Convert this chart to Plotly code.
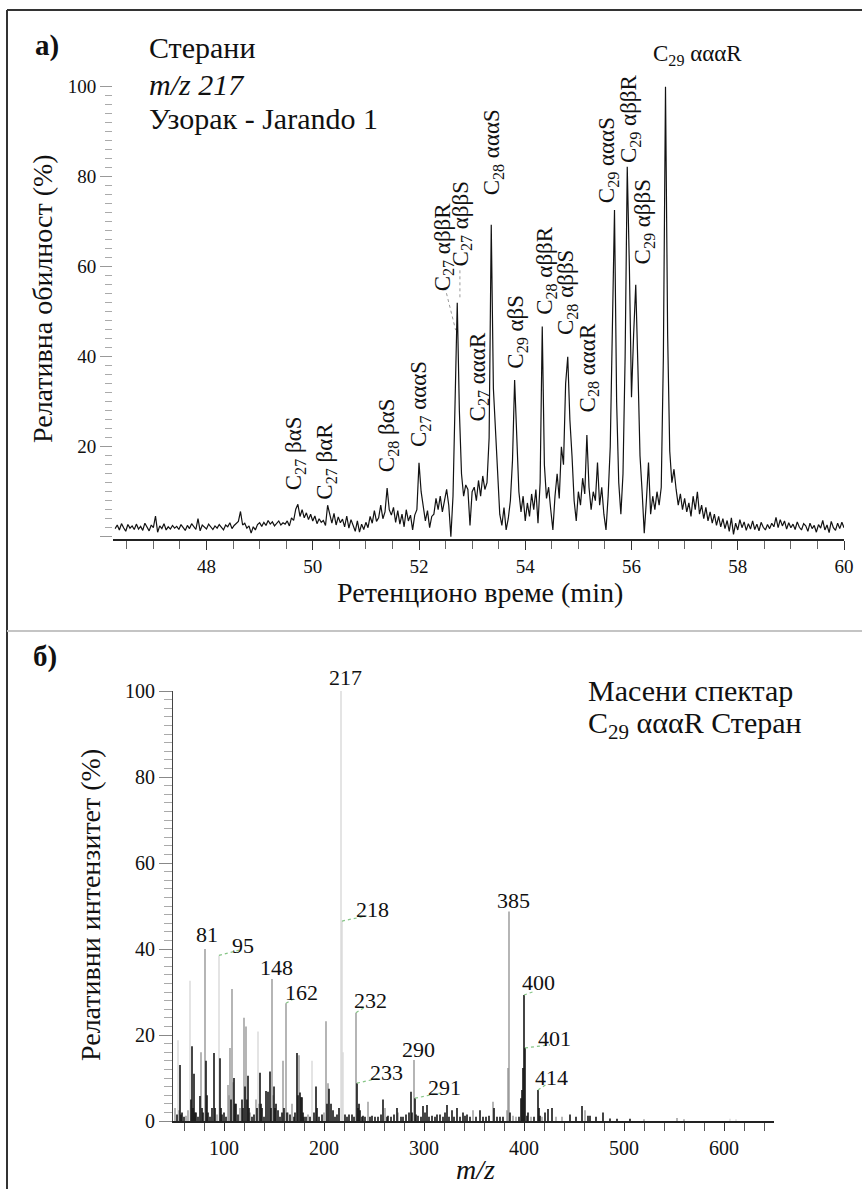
import plotly.graph_objects as go

# ------------------------------------------------------------------
# DATA
# ------------------------------------------------------------------
# (a) m/z 217 chromatogram: relative abundance (%) sampled every 0.04 min from 46.28 min
rt_start = 46.28
rt_step = 0.04
abundance = [
    1.8, 2.6, 1.5, 2.9, 2.0, 1.2, 2.7, 1.9, 2.4, 1.6,
    2.8, 1.7, 2.3, 1.4, 3.0, 2.1, 1.3, 2.6, 2.0, 4.6,
    1.0, 2.4, 1.8, 2.9, 1.5, 2.2, 1.7, 2.5, 1.9, 2.3,
    1.6, 2.7, 2.0, 1.4, 2.5, 1.8, 2.9, 2.2, 1.6, 4.0,
    1.3, 2.6, 2.1, 1.7, 2.8, 2.3, 1.6, 2.4, 1.9, 2.7,
    2.0, 1.5, 2.6, 2.2, 3.1, 1.8, 2.5, 2.9, 3.4, 5.6,
    2.6, 3.0, 1.9, 2.4, 0.8, 2.2, 1.5, 2.7, 3.1, 2.3,
    3.2, 2.5, 3.6, 2.8, 3.3, 2.4, 3.0, 3.5, 2.6, 3.1,
    2.8, 3.5, 2.4, 4.2, 3.6, 6.1, 7.2, 4.5, 6.0, 4.2,
    5.3, 3.8, 5.0, 3.5, 4.6, 2.9, 4.0, 3.2, 3.6, 2.5,
    7.0, 4.8, 3.0, 5.2, 2.6, 4.4, 3.1, 3.9, 2.2, 4.6,
    1.9, 3.8, 2.5, 1.2, 3.5, 1.0, 2.8, 1.6, 3.2, 2.0,
    4.5, 3.0, 5.8, 3.4, 4.2, 7.0, 4.0, 5.5, 10.8, 6.0,
    4.8, 6.5, 3.2, 5.8, 2.8, 5.0, 2.2, 6.0, 3.5, 4.8,
    1.5, 4.8, 6.0, 16.4, 10.0, 6.5, 3.5, 5.8, 2.0, 4.5,
    5.0, 8.5, 6.0, 9.0, 5.5, 8.0, 10.5, 7.0, 0.0, 9.0,
    30.0, 52.0, 28.0, 14.0, 9.0, 11.5, 10.5, 2.5, 10.0, 11.0,
    8.0, 12.5, 9.0, 13.5, 10.5, 12.0, 22.0, 69.3, 33.0, 22.5,
    12.0, 5.0, 2.5, 6.5, 1.5, 4.0, 8.0, 17.0, 34.8, 20.0,
    10.0, 5.5, 9.0, 3.5, 7.5, 4.5, 9.5, 6.0, 10.5, 3.0,
    12.0, 46.7, 16.0, 8.5, 11.0, 6.0, 1.5, 9.0, 14.0, 8.5,
    20.0, 16.0, 34.0, 40.0, 26.0, 18.0, 8.0, 3.5, 10.0, 7.0,
    13.0, 9.5, 22.6, 11.0, 6.0, 10.0, 8.0, 16.5, 7.0, 11.0,
    5.0, 1.5, 9.0, 20.0, 45.0, 72.6, 30.0, 12.0, 5.0, 14.0,
    40.0, 82.2, 60.0, 31.0, 45.0, 56.0, 38.0, 18.0, 10.0, 0.8,
    8.0, 16.5, 5.0, 9.0, 6.0, 10.0, 7.0, 11.0, 40.0, 100.0,
    45.0, 19.0, 12.0, 15.0, 10.5, 7.0, 9.5, 6.0, 8.5, 5.5,
    7.5, 4.5, 9.0, 6.0, 10.0, 5.0, 7.0, 4.0, 6.5, 3.5,
    5.5, 3.0, 5.0, 2.5, 4.5, 2.2, 4.0, 1.8, 3.6, 1.2,
    4.2, 0.5, 3.0, 1.5, 3.8, 2.0, 3.3, 1.4, 2.9, 1.7,
    3.5, 1.6, 2.8, 1.3, 3.2, 2.1, 1.5, 2.7, 1.8, 3.0,
    2.2, 4.3, 2.0, 3.8, 2.4, 3.5, 1.7, 3.1, 2.0, 2.8,
    1.6, 3.3, 2.1, 1.5, 2.9, 2.4, 1.2, 3.0, 1.8, 2.5,
    1.0, 2.7, 1.9, 3.6, 1.5, 2.6, 0.9, 3.4, 2.0, 1.4,
    3.0, 1.8, 3.2, 2.0,
]
retention_time = [round(rt_start + rt_step * i, 2) for i in range(len(abundance))]

peak_names = [
    "C<sub>27</sub> βαS", "C<sub>27</sub> βαR", "C<sub>28</sub> βαS", "C<sub>27</sub> αααS",
    "C<sub>27</sub> αββR", "C<sub>27</sub> αββS", "C<sub>27</sub> αααR", "C<sub>28</sub> αααS",
    "C<sub>29</sub> αβS", "C<sub>28</sub> αββR", "C<sub>28</sub> αββS", "C<sub>28</sub> αααR",
    "C<sub>29</sub> αααS", "C<sub>29</sub> αββR", "C<sub>29</sub> αββS", "C<sub>29</sub> αααR",
]

# (b) mass spectrum of C29 αααR sterane: m/z, relative intensity (%), shade of the stick
mz_values = [
    51, 53, 54, 55, 56, 57, 58, 60, 62, 64, 66, 67, 68, 69, 70, 71, 72, 74, 76, 77,
    78, 79, 81, 82, 83, 84, 86, 88, 90, 91, 93, 95, 96, 97, 98, 100, 102, 104, 105, 106,
    107, 108, 109, 110, 111, 112, 114, 116, 118, 119, 120, 121, 122, 123, 124, 125, 126, 128, 130, 132,
    133, 134, 135, 136, 137, 138, 140, 142, 144, 146, 147, 148, 149, 150, 151, 152, 154, 156, 158, 159,
    160, 162, 163, 164, 166, 168, 170, 171, 173, 174, 175, 176, 177, 178, 179, 180, 182, 184, 186, 188,
    190, 192, 193, 195, 198, 200, 202, 203, 204, 205, 207, 209, 211, 213, 215, 217, 218, 219, 221, 223,
    225, 228, 230, 232, 233, 234, 235, 236, 238, 239, 241, 244, 246, 248, 251, 254, 257, 259, 261, 263,
    264, 267, 270, 273, 274, 277, 279, 282, 285, 287, 288, 290, 291, 292, 294, 297, 299, 301, 303, 305,
    308, 311, 313, 316, 319, 321, 323, 325, 328, 330, 333, 336, 339, 341, 343, 346, 349, 352, 356, 359,
    362, 365, 369, 370, 373, 376, 379, 383, 384, 385, 386, 389, 392, 395, 397, 398, 399, 400, 401, 403,
    404, 407, 410, 414, 415, 416, 418, 421, 424, 428, 432, 438, 446, 452, 458, 461, 464, 466, 472, 479,
    486, 493, 506, 520, 553, 560, 606, 612,
]
rel_intensity = [
    3.0, 1.5, 18.8, 2.5, 13.0, 1.5, 2.0, 1.0, 1.2, 2.5, 32.6, 5.0, 17.4, 3.0, 11.0, 2.0, 2.0, 1.0, 5.8, 16.0,
    3.0, 2.0, 40.0, 14.0, 6.0, 2.0, 1.0, 3.0, 15.8, 3.0, 1.5, 38.5, 14.6, 3.0, 1.5, 2.0, 1.0, 8.4, 6.0, 17.0,
    5.0, 30.7, 9.0, 10.0, 4.0, 4.0, 1.5, 3.0, 5.0, 3.0, 24.0, 8.0, 22.0, 5.0, 10.5, 3.0, 2.0, 1.0, 1.5, 5.0,
    3.0, 20.8, 4.0, 11.2, 4.0, 3.0, 1.0, 7.0, 6.8, 11.5, 3.0, 33.0, 6.0, 8.0, 3.0, 4.0, 2.5, 1.0, 2.0, 14.0,
    3.0, 27.4, 2.0, 2.0, 1.5, 4.0, 1.0, 2.0, 15.8, 6.0, 15.3, 6.6, 5.5, 5.5, 2.0, 1.0, 1.0, 1.5, 1.0, 14.0,
    2.0, 8.0, 3.0, 1.0, 1.5, 2.0, 23.2, 4.0, 8.8, 7.5, 4.0, 2.5, 1.0, 1.5, 3.0, 100.0, 46.5, 16.0, 1.5, 1.0,
    1.5, 1.5, 1.0, 25.2, 8.8, 3.0, 4.0, 2.5, 1.0, 1.2, 1.0, 4.5, 1.0, 1.2, 1.0, 1.0, 1.5, 5.0, 3.0, 1.0,
    1.2, 1.0, 1.5, 3.0, 2.0, 1.0, 1.0, 1.5, 2.0, 6.8, 2.0, 14.2, 5.3, 1.5, 1.2, 1.0, 3.5, 2.0, 3.7, 1.0,
    1.2, 1.0, 1.5, 1.5, 1.0, 2.0, 3.7, 1.0, 2.5, 1.0, 3.0, 1.0, 2.0, 1.2, 1.5, 1.0, 2.5, 1.0, 2.5, 1.0,
    1.0, 1.2, 4.5, 3.0, 1.0, 1.0, 1.0, 2.5, 12.3, 48.7, 2.0, 1.2, 1.0, 1.0, 5.3, 7.2, 12.3, 29.3, 17.0, 1.2,
    2.0, 1.0, 1.0, 7.2, 3.0, 1.2, 1.0, 2.0, 2.8, 3.0, 1.0, 1.0, 1.5, 1.0, 3.5, 2.5, 1.2, 1.2, 1.0, 2.0,
    0.6, 0.5, 0.5, 0.4, 0.7, 0.4, 0.5, 0.4,
]
bar_shade = list(
    "gklgkkkkgglkkkkkkkkg"
    "kkgkkkkkkkglkkkkkggg"
    "kggkkkkgkkgkgkkkgkkg"
    "klgkkkkkkkkggkkkkkkg"
    "kgkgkgkkkkgkkkkkkgkl"
    "kkkkkggkgkkkkkklllkk"
    "kkkgkkkkkkkgkkkkkkgk"
    "kkkkgkkkkkkgkkkkkkkk"
    "kkkkkkkkkkkkkkkkgkkk"
    "kkgkkkkggg"
    "kggkkkkkkkkgk"
    "kkkgkkkggkkkgkkkkkkk"
    "ggglllll"
)
labelled_mz = [81, 95, 148, 162, 217, 218, 232, 233, 290, 291, 385, 400, 401, 414]

# ------------------------------------------------------------------
# LAYOUT HELPERS (positions / styles)
# ------------------------------------------------------------------
W, H = 862, 1189
FONT = "'Liberation Serif', 'Times New Roman', Times, 'DejaVu Serif', serif"


def fx(p):
    return p / W


def fy(p):
    return 1 - p / H


# label centres of panel (a): data coords, or paper pixels when above the axis range
peak_label_pos = [
    (49.67, 18.6), (50.26, 16.8), (51.42, 22.6), (52.02, 29.5),
    (52.46, 64.4), (52.80, 69.5), (53.12, 35.5), (53.40, 85.5),
    (53.84, 45.5), (54.39, 59.3), (54.79, 54.2), (55.19, 37.5),
    (55.56, 83.7), (55.97, 93.0), (56.24, 69.9), ("px", 697, 55),
]
peak_label_angle = [-90] * 15 + [0]

# label centres of panel (b)
mz_label_pos = {
    81: (83, 43.3), 95: (119, 40.9), 148: (152, 35.8), 162: (177, 29.8),
    217: ("px", 345, 677), 218: (248, 49.3), 232: (246, 28.1), 233: (262, 11.2),
    290: (294, 16.7), 291: (320, 7.9), 385: (389, 51.2), 400: (414, 32.1),
    401: (430, 19.3), 414: (427, 10.2),
}
# green dashed leader end points (data coords of panel b)
leader_end = {
    95: (116, 39.8), 162: (171, 28.6), 218: (242.7, 47.7), 232: (241, 26.5),
    233: (256, 10.0), 291: (316, 6.5), 400: (411, 30.2), 401: (426, 17.7),
    414: (424, 8.8),
}

fig = go.Figure()

# ---- panel (a) chromatogram
fig.add_trace(go.Scatter(
    x=retention_time, y=abundance, mode="lines",
    line=dict(color="#121212", width=1.2), xaxis="x", yaxis="y",
    hoverinfo="skip", showlegend=False,
))

# ---- panel (b) stick spectrum
shade_color = {"l": "#d6d6d6", "g": "#8e8e8e", "k": "#161616"}
shade_width = {"l": 1.3, "g": 1.3, "k": 1.6}
for s in ["l", "g", "k"]:
    xs, ys = [], []
    for m, v, sh in zip(mz_values, rel_intensity, bar_shade):
        if sh == s:
            xs += [m, m, None]
            ys += [0, v, None]
    fig.add_trace(go.Scatter(
        x=xs, y=ys, mode="lines", line=dict(color=shade_color[s], width=shade_width[s]),
        xaxis="x2", yaxis="y2", hoverinfo="skip", showlegend=False,
    ))

intensity_of = dict(zip(mz_values, rel_intensity))
for m, (ex, ey) in leader_end.items():
    fig.add_trace(go.Scatter(
        x=[m, ex], y=[intensity_of[m], ey], mode="lines",
        line=dict(color="#86c586", width=1.2, dash="dot"),
        xaxis="x2", yaxis="y2", hoverinfo="skip", showlegend=False,
    ))


def place(pos, xref, yref):
    if pos[0] == "px":
        return dict(x=fx(pos[1]), y=fy(pos[2]), xref="paper", yref="paper")
    return dict(x=pos[0], y=pos[1], xref=xref, yref=yref)


annotations = []
for name, pos, ang in zip(peak_names, peak_label_pos, peak_label_angle):
    annotations.append(dict(
        **place(pos, "x", "y"), text=name, showarrow=False,
        textangle=ang, xanchor="center", yanchor="middle",
        font=dict(family=FONT, size=23, color="#111"),
    ))
for m in labelled_mz:
    annotations.append(dict(
        **place(mz_label_pos[m], "x2", "y2"), text=str(m), showarrow=False,
        xanchor="center", yanchor="middle",
        font=dict(family=FONT, size=22, color="#111"),
    ))

header = [
    ("<b>a)</b>", 33, 45, 29),
    ("Стерани", 147, 48, 30),
    ("<i>m/z 217</i>", 147, 84, 30),
    ("Узорак - Jarando 1", 147, 118, 30),
    ("<b>б)</b>", 31, 656, 29),
    ("Масени спектар", 586, 690, 30),
    ("C<sub>29</sub> αααR Стеран", 586, 725, 30),
]
for txt, x0, y0, sz in header:
    annotations.append(dict(
        x=fx(x0), y=fy(y0), xref="paper", yref="paper", text=txt, showarrow=False,
        xanchor="left", yanchor="middle", font=dict(family=FONT, size=sz, color="#111"),
    ))

axis_titles = [
    ("Релативна обилност (%)", 43, 299, -90),
    ("Ретенционо време (min)", 480, 592, 0),
    ("Релативни интензитет (%)", 90, 905, -90),
    ("<i>m/z</i>", 476, 1169, 0),
]
for txt, x0, y0, ang in axis_titles:
    annotations.append(dict(
        x=fx(x0), y=fy(y0), xref="paper", yref="paper", text=txt, showarrow=False,
        textangle=ang, xanchor="center", yanchor="middle",
        font=dict(family=FONT, size=28, color="#111"),
    ))

shapes = [
    dict(type="line", xref="paper", yref="paper", x0=fx(7), x1=1, y0=fy(10), y1=fy(10),
         line=dict(color="#333", width=2)),
    dict(type="line", xref="paper", yref="paper", x0=fx(7), x1=fx(7), y0=fy(10), y1=0,
         line=dict(color="#333", width=2)),
    dict(type="line", xref="paper", yref="paper", x0=fx(7), x1=1, y0=fy(631), y1=fy(631),
         line=dict(color="#c4c4c4", width=2)),
    dict(type="line", xref="x", yref="y", x0=52.49, y0=55.4, x1=52.69, y1=45.9,
         line=dict(color="#9a9a9a", width=1, dash="dot")),
    dict(type="line", xref="x", yref="y", x0=52.77, y0=59.2, x1=52.77, y1=52.6,
         line=dict(color="#9a9a9a", width=1, dash="dot")),
]

top_x_minor = [46.5 + 0.5 * k for k in range(28) if (46.5 + 0.5 * k) % 2 != 0]
top_y_minor = [v for v in range(2, 100, 2) if v % 20 != 0]
bot_x_minor = [v for v in range(60, 650, 20) if v % 100 != 0]
bot_y_minor = [v for v in range(2, 100, 2) if v % 20 != 0]

fig.update_layout(
    template="none",
    width=W, height=H, autosize=False, margin=dict(l=0, r=0, t=0, b=0, pad=0),
    paper_bgcolor="white", plot_bgcolor="rgba(0,0,0,0)", showlegend=False,
    font=dict(family=FONT, color="#111"),
    xaxis=dict(
        domain=[fx(113), fx(844)], range=[46.24, 60.0], anchor="y", automargin=False,
        showline=True, linecolor="#222", linewidth=1.5, showgrid=False, zeroline=False,
        ticks="outside", tickmode="array", tickvals=[48, 50, 52, 54, 56, 58, 60],
        ticklen=9, tickwidth=1.2, tickcolor="#333",
        tickfont=dict(family=FONT, size=19, color="#111"),
        minor=dict(tickmode="array", tickvals=top_x_minor, ticks="outside", ticklen=8,
                   tickwidth=1, tickcolor="#666", showgrid=False),
    ),
    yaxis=dict(
        domain=[fy(539.4), fy(77.7)], range=[-0.6, 102], anchor="x", automargin=False,
        showline=False, showgrid=False, zeroline=False,
        ticks="outside", tickmode="array", tickvals=[0, 20, 40, 60, 80, 100],
        ticktext=["", "20", "40", "60", "80", "100"],
        ticklen=12, tickwidth=1.2, tickcolor="#999",
        tickfont=dict(family=FONT, size=19, color="#111"),
        minor=dict(tickmode="array", tickvals=top_y_minor, ticks="outside", ticklen=7,
                   tickwidth=1, tickcolor="#aaa", showgrid=False),
    ),
    xaxis2=dict(
        domain=[fx(173), fx(774)], range=[49, 650], anchor="y2", automargin=False,
        showline=True, linecolor="#222", linewidth=1.5, showgrid=False, zeroline=False,
        ticks="outside", tickmode="array", tickvals=[100, 200, 300, 400, 500, 600],
        ticklen=8, tickwidth=1.2, tickcolor="#333",
        tickfont=dict(family=FONT, size=20, color="#111"),
        minor=dict(tickmode="array", tickvals=bot_x_minor, ticks="outside", ticklen=8,
                   tickwidth=1, tickcolor="#555", showgrid=False),
    ),
    yaxis2=dict(
        domain=[fy(1121), fy(691)], range=[0, 100], anchor="x2", automargin=False,
        showline=True, linecolor="#444", linewidth=1.2, showgrid=False, zeroline=False,
        ticks="outside", tickmode="array", tickvals=[0, 20, 40, 60, 80, 100],
        ticklen=13, tickwidth=1.2, tickcolor="#888",
        tickfont=dict(family=FONT, size=20, color="#111"),
        minor=dict(tickmode="array", tickvals=bot_y_minor, ticks="outside", ticklen=8,
                   tickwidth=1, tickcolor="#aaa", showgrid=False),
    ),
    annotations=annotations,
    shapes=shapes,
)

fig.write_html("out.html")
